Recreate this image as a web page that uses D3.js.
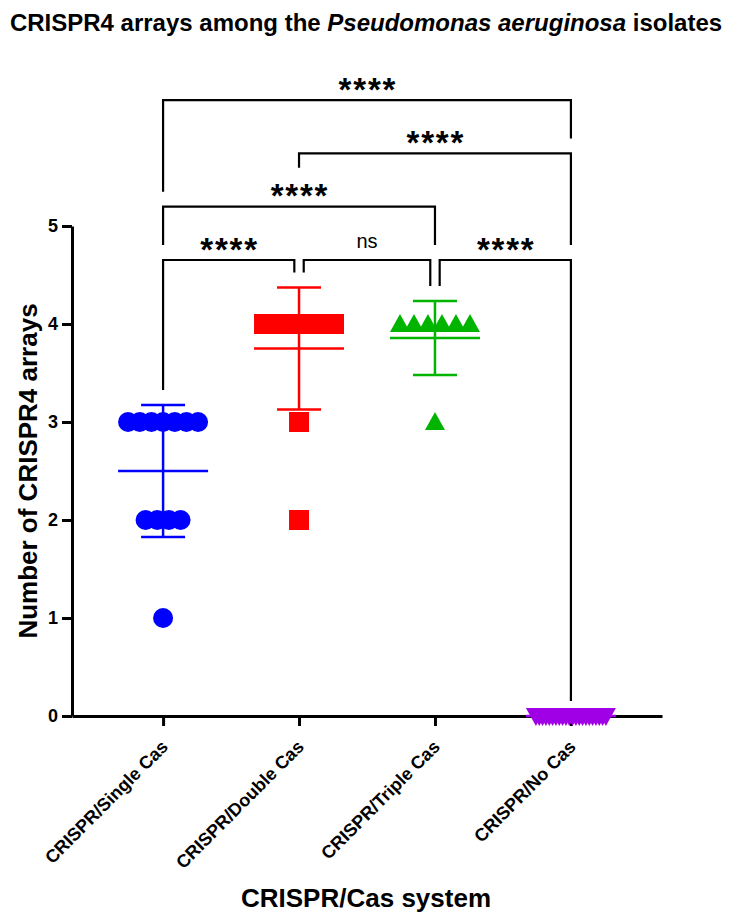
<!DOCTYPE html>
<html>
<head>
<meta charset="utf-8">
<script src="https://cdn.jsdelivr.net/npm/d3@7"></script>
<style>
  html, body { margin: 0; padding: 0; background: #fff; }
  svg { display: block; font-family: 'Liberation Sans', Arial, sans-serif; }
</style>
</head>
<body>
<div id="chart"></div>
<script>
// --- Data ---
const groups = ['CRISPR/Single Cas', 'CRISPR/Double Cas', 'CRISPR/Triple Cas', 'CRISPR/No Cas'];
const singleCas = [3, 3, 3, 3, 3, 3, 3, 2, 2, 2, 2, 1];
const doubleCas = [4, 4, 4, 4, 4, 4, 4, 4, 4, 4, 3, 2];
const tripleCas = [4, 4, 4, 4, 4, 4, 3];
const noCas = [0, 0, 0, 0, 0, 0, 0, 0, 0, 0, 0, 0, 0, 0, 0, 0, 0, 0, 0, 0, 0, 0];
const yTicks = [0, 1, 2, 3, 4, 5];
// pairs of group indices and the label of each multiple-comparison test
const compPairs = [[0, 1], [1, 2], [2, 3], [0, 2], [1, 3], [0, 3]];
const compLabels = ['****', 'ns', '****', '****', '****', '****'];
const compLevels = [0, 0, 0, 1, 2, 3];

const series = [singleCas, doubleCas, tripleCas, noCas];
const groupColors = ['#0000ff', '#ff0000', '#00b400', '#a000e6'];
const groupShapes = ['circle', 'square', 'triangleUp', 'triangleDown'];

const W = 732, H = 922;
const svg = d3.select('#chart').append('svg')
  .attr('width', W).attr('height', H);

const x = d3.scalePoint().domain(groups).range([72, 662]).padding(0.67);
const y = d3.scaleLinear().domain([0, 5]).range([716, 226]);

// --- Title ---
const title = svg.append('text')
  .attr('x', 366).attr('y', 31)
  .attr('text-anchor', 'middle')
  .attr('font-size', '24px')
  .attr('font-weight', 'bold');
title.append('tspan').text('CRISPR4 arrays among the ');
title.append('tspan').attr('font-style', 'italic').text('Pseudomonas aeruginosa');
title.append('tspan').text(' isolates');

// --- Axes ---
const yAxis = svg.append('g')
  .attr('transform', 'translate(72,0)')
  .call(d3.axisLeft(y).tickValues(yTicks).tickFormat(d3.format('d')).tickSize(10).tickSizeOuter(0).tickPadding(4));
yAxis.selectAll('text').attr('font-size', '18px').attr('font-weight', 'bold')
  .attr('font-family', "'Liberation Sans', Arial, sans-serif").attr('fill', '#000');

const xAxis = svg.append('g')
  .attr('transform', `translate(0,${y(0)})`)
  .call(d3.axisBottom(x).tickSize(10).tickSizeOuter(0).tickFormat(''));

[yAxis, xAxis].forEach(a => {
  a.select('.domain').attr('stroke', '#000').attr('stroke-width', 3);
  a.selectAll('.tick line').attr('stroke', '#000').attr('stroke-width', 3);
});

svg.append('g').selectAll('text')
  .data(groups)
  .join('text')
  .attr('transform', d => `translate(${x(d) + 6},${y(0) + 32}) rotate(-45)`)
  .attr('text-anchor', 'end')
  .attr('font-size', '18px')
  .attr('font-weight', 'bold')
  .text(d => d);

svg.append('text')
  .attr('x', 366).attr('y', 907)
  .attr('text-anchor', 'middle')
  .attr('font-size', '26px')
  .attr('font-weight', 'bold')
  .text('CRISPR/Cas system');

svg.append('text')
  .attr('transform', 'translate(37,471) rotate(-90)')
  .attr('text-anchor', 'middle')
  .attr('font-size', '26px')
  .attr('font-weight', 'bold')
  .text('Number of CRISPR4 arrays');

// --- Points (scatter with mean ± SD) ---
const bandW = 70, mk = 10;
function markerPath(shape) {
  if (shape === 'circle') return d3.symbol(d3.symbolCircle, Math.PI * mk * mk)();
  if (shape === 'square') return `M${-mk},${-mk}H${mk}V${mk}H${-mk}Z`;
  if (shape === 'triangleUp') return `M0,${-mk}L${mk},${mk * 0.8}L${-mk},${mk * 0.8}Z`;
  return `M0,${mk}L${mk},${-mk * 0.8}L${-mk},${-mk * 0.8}Z`;
}

const stats = series.map(vals => ({
  mean: d3.mean(vals),
  sd: vals.length > 1 ? d3.deviation(vals) : 0,
}));

const pts = svg.append('g');
series.forEach((vals, gi) => {
  const rows = d3.groups(vals, v => v);
  const maxN = d3.max(rows, r => r[1].length);
  const step = maxN > 1 ? bandW / (maxN - 1) : 0;
  const cx = x(groups[gi]);
  rows.forEach(([v, arr]) => {
    arr.forEach((_, i) => {
      pts.append('path')
        .attr('d', markerPath(groupShapes[gi]))
        .attr('transform', `translate(${cx + (i - (arr.length - 1) / 2) * step},${y(v)})`)
        .attr('fill', groupColors[gi]);
    });
  });
});

// error bars
const eb = svg.append('g').attr('stroke-width', 2.5).attr('fill', 'none');
stats.forEach((s, gi) => {
  const cx = x(groups[gi]);
  const c = groupColors[gi];
  const lo = y(Math.max(0, s.mean - s.sd)), hi = y(s.mean + s.sd);
  eb.append('line').attr('x1', cx).attr('x2', cx).attr('y1', lo).attr('y2', hi).attr('stroke', c);
  eb.append('line').attr('x1', cx - 22).attr('x2', cx + 22).attr('y1', hi).attr('y2', hi).attr('stroke', c);
  eb.append('line').attr('x1', cx - 22).attr('x2', cx + 22).attr('y1', lo).attr('y2', lo).attr('stroke', c);
  eb.append('line').attr('x1', cx - 45).attr('x2', cx + 45).attr('y1', y(s.mean)).attr('y2', y(s.mean)).attr('stroke', c);
});

// --- Significance brackets ---
const levelY = l => 260 - l * 53.3;
const shareOff = 4.7, legGap = 15, tol = 8;

const brackets = compPairs.map((p, i) => ({
  a: p[0], b: p[1], label: compLabels[i], level: compLevels[i],
  x1: x(groups[p[0]]), x2: x(groups[p[1]]), y: levelY(compLevels[i]),
}));
// separate ends that meet at the same group on the same row
brackets.forEach(br => {
  brackets.forEach(o => {
    if (o === br || o.level !== br.level) return;
    if (o.a === br.b) br.x2 -= shareOff;
    if (o.b === br.a) br.x1 += shareOff;
  });
  br.tx = (br.x1 + br.x2) / 2;
  br.textTop = br.y - 24;
  br.textHalf = br.label === 'ns' ? 12 : 28;
});

function legEnd(br, xe, gi) {
  let obst = y(stats[gi].mean + stats[gi].sd);
  brackets.forEach(o => {
    if (o.level >= br.level) return;
    if (xe >= o.x1 - tol && xe <= o.x2 + tol) obst = Math.min(obst, o.y);
    if (Math.abs(xe - o.tx) <= o.textHalf) obst = Math.min(obst, o.textTop);
  });
  return obst - legGap;
}

const bg = svg.append('g');
brackets.forEach(br => {
  const l1 = legEnd(br, br.x1, br.a), l2 = legEnd(br, br.x2, br.b);
  bg.append('path')
    .attr('d', `M${br.x1},${l1}V${br.y}H${br.x2}V${l2}`)
    .attr('fill', 'none')
    .attr('stroke', '#000')
    .attr('stroke-width', 2.2);
  const isNs = br.label === 'ns';
  bg.append('text')
    .attr('x', br.tx + (isNs ? 0 : 0.9))
    .attr('y', isNs ? br.y - 12 : br.y + 0.5)
    .attr('text-anchor', 'middle')
    .attr('font-size', isNs ? '20px' : '33px')
    .attr('font-weight', isNs ? 'normal' : 'bold')
    .attr('letter-spacing', isNs ? 0 : 1.8)
    .text(br.label);
});
</script>
</body>
</html>
